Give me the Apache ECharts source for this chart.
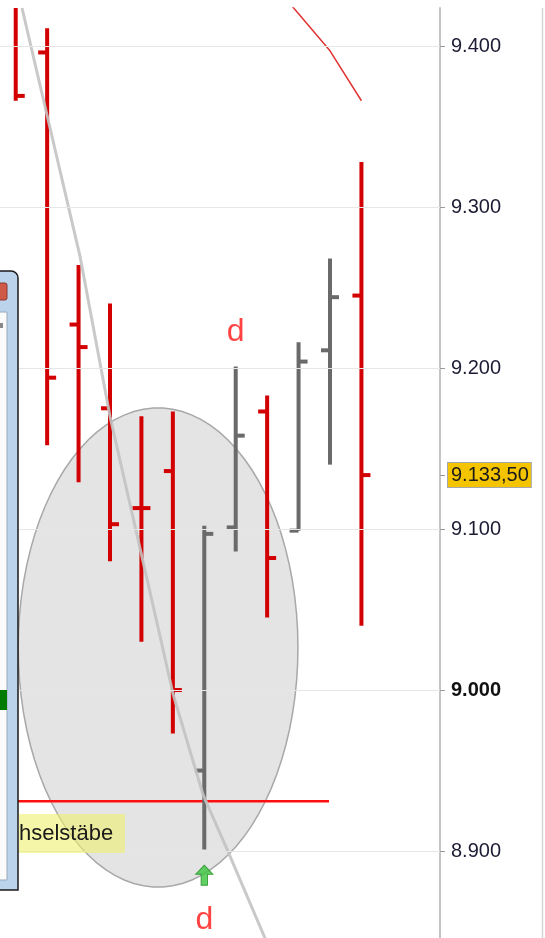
<!DOCTYPE html>
<html>
<head>
<meta charset="utf-8">
<script src="https://cdn.jsdelivr.net/npm/echarts@6.0.0/dist/echarts.min.js"></script>
<style>
html,body{margin:0;padding:0;background:#fff;}
#chart{width:545px;height:938px;}
</style>
</head>
<body>
<div id="chart"></div>
<script>
// bar slots (left to right), OHLC values
var slots = [0, 1, 2, 3, 4, 5, 6, 7, 8, 9, 10, 11];
var openVals  = [9435, 9396, 9227, 9175, 9113, 9136, 8950, 9101, 9173, 9099, 9211, 9245];
var highVals  = [9440, 9411, 9264, 9240, 9170, 9173, 9102, 9201, 9183, 9216, 9268, 9328];
var lowVals   = [9366, 9152, 9129, 9080, 9030, 8973, 8901, 9086, 9045, 9099, 9140, 9040];
var closeVals = [9369, 9194, 9213, 9103, 9113, 9000, 9097, 9158, 9082, 9204, 9244, 9133.5];

var tickValues = [8900, 9000, 9100, 9200, 9300, 9400];
var lastPrice = 9133.5;

// red average line at the top
var avgSlots = [8, 9, 10, 11];
var avgVals = [9443, 9420, 9397, 9366];

// grey trend line (slot, price)
var trendSlots = [0.2, 2.05, 3.0, 4.69, 5.0, 5.96, 6.75, 7.93, 8.3];
var trendVals = [9423.6, 9269, 9170, 9025, 8998, 8935, 8900, 8846, 8825];

// red support line
var supportSlots = [-0.5, 9.97];
var supportVal = 8931;

// ellipse: centre slot, centre price, radius in slots, radius in price
var ellipseCenter = [4.53, 9026.4];
var ellipseRadius = [4.45, 148.8];

// markers
var markSlots = [7, 6];
var markVals = [9222, 8857];
var arrowSlot = 6;
var arrowVal = 8885;

var RED = '#d20000';
var GREY = '#6a6a6a';
var FONT = "'Liberation Sans', Arial, sans-serif";

function fmt(v) {
  var s = String(Math.round(v));
  return s.slice(0, s.length - 3) + '.' + s.slice(s.length - 3);
}

var ohlcData = slots.map(function (s, i) {
  return [s, openVals[i], highVals[i], lowVals[i], closeVals[i]];
});

function renderBar(params, api) {
  var x = api.value(0);
  var o = api.coord([x, api.value(1)]);
  var h = api.coord([x, api.value(2)]);
  var l = api.coord([x, api.value(3)]);
  var c = api.coord([x, api.value(4)]);
  var color = api.value(4) <= api.value(1) ? RED : GREY;
  var st = { stroke: color, lineWidth: 4 };
  return {
    type: 'group',
    children: [
      { type: 'line', shape: { x1: h[0], y1: h[1], x2: l[0], y2: l[1] }, style: st },
      { type: 'line', shape: { x1: o[0] - 9, y1: o[1], x2: o[0], y2: o[1] }, style: st },
      { type: 'line', shape: { x1: c[0], y1: c[1], x2: c[0] + 9, y2: c[1] }, style: st }
    ]
  };
}

function renderEllipse(params, api) {
  var c = api.coord([api.value(0), api.value(1)]);
  var rx = api.size([api.value(2), 0])[0];
  var ry = api.size([0, api.value(3)])[1];
  var pts = [];
  for (var k = 0; k < 90; k++) {
    var a = k / 90 * Math.PI * 2;
    pts.push([c[0] + rx * Math.cos(a), c[1] + ry * Math.sin(a)]);
  }
  return {
    type: 'polygon',
    shape: { points: pts },
    style: { fill: 'rgba(130,130,130,0.22)', stroke: '#a8a8a8', lineWidth: 1.5 }
  };
}

var chartDom = document.getElementById('chart');
var myChart = echarts.init(chartDom);

var option = {
  animation: false,
  grid: { left: 0, right: 105, top: 8, bottom: 0, containLabel: false },
  xAxis: {
    type: 'value',
    min: -0.5,
    max: 13.5,
    show: false
  },
  yAxis: {
    type: 'value',
    position: 'right',
    min: 8846,
    max: 9423.6,
    axisLine: { show: true, onZero: false, lineStyle: { color: '#c4c4c4', width: 2 } },
    axisTick: { show: true, length: 5, customValues: tickValues.concat([lastPrice]), lineStyle: { color: '#9a9a9a' } },
    splitLine: { show: false },
    axisLabel: {
      customValues: tickValues,
      margin: 11,
      fontSize: 20,
      fontFamily: FONT,
      color: '#1c1c34',
      formatter: function (v) {
        if (v === 9000) return '{b|' + fmt(v) + '}';
        return fmt(v);
      },
      rich: {
        b: { fontSize: 20, fontWeight: 'bold', fontFamily: FONT, color: '#111111' }
      }
    }
  },
  graphic: [
    // right border of the panel
    { type: 'line', z: 50, shape: { x1: 542.5, y1: 8, x2: 542.5, y2: 938 }, style: { stroke: '#d6d6d6', lineWidth: 1.5 } },
    // window fragment on the left
    { type: 'rect', z: 60, shape: { x: -12, y: 271, width: 30, height: 619, r: [0, 7, 0, 0] }, style: { fill: '#bcd3ec', stroke: '#1a1a1a', lineWidth: 1.5 } },
    { type: 'rect', z: 61, shape: { x: -4, y: 283, width: 11, height: 17, r: 2 }, style: { fill: '#cf5a48', stroke: '#8a3a30', lineWidth: 1 } },
    { type: 'rect', z: 61, shape: { x: -4, y: 312, width: 11, height: 568 }, style: { fill: '#fbfbfb', stroke: '#9aa8b8', lineWidth: 1 } },
    { type: 'rect', z: 62, shape: { x: 0, y: 690, width: 7, height: 20 }, style: { fill: '#007a00' } },
    { type: 'rect', z: 62, shape: { x: 0, y: 323, width: 3, height: 5 }, style: { fill: '#888888' } },
    // yellow legend label
    { type: 'rect', z: 60, shape: { x: 19, y: 814, width: 106, height: 39 }, style: { fill: 'rgba(240,240,110,0.6)' } },
    { type: 'text', z: 61, x: 19, y: 834, style: { text: 'hselstäbe', font: '22px ' + FONT, fill: '#1a1a1a', verticalAlign: 'middle', align: 'left' } }
  ],
  series: [
    {
      name: 'grid',
      type: 'line',
      data: [],
      z: 0,
      silent: true,
      markLine: {
        silent: true,
        symbol: 'none',
        label: { show: false },
        lineStyle: { color: '#e6e6e6', type: 'solid', width: 1 },
        data: tickValues.map(function (v) { return { yAxis: v }; })
      }
    },
    {
      name: 'ellipse',
      type: 'custom',
      z: 1,
      silent: true,
      renderItem: renderEllipse,
      data: [[ellipseCenter[0], ellipseCenter[1], ellipseRadius[0], ellipseRadius[1]]]
    },
    {
      name: 'support',
      type: 'line',
      z: 2,
      symbol: 'none',
      lineStyle: { color: '#ff1010', width: 2.5 },
      data: supportSlots.map(function (s) { return [s, supportVal]; })
    },
    {
      name: 'bars',
      type: 'custom',
      z: 3,
      clip: true,
      renderItem: renderBar,
      data: ohlcData
    },
    {
      name: 'last',
      type: 'line',
      data: [],
      z: 6,
      silent: true,
      markLine: {
        silent: true,
        symbol: 'none',
        lineStyle: { color: 'rgba(0,0,0,0)', width: 1 },
        label: {
          show: true,
          position: 'end',
          distance: 8,
          formatter: '9.133,50',
          fontSize: 20,
          fontFamily: FONT,
          color: '#1a1a1a',
          backgroundColor: '#f5c400',
          borderColor: '#a8a8a8',
          borderWidth: 1,
          padding: [3, 2, 1, 3]
        },
        data: [{ yAxis: lastPrice }]
      }
    },
    {
      name: 'trend',
      type: 'line',
      z: 4,
      symbol: 'none',
      lineStyle: { color: 'rgba(195,195,195,0.9)', width: 3 },
      data: trendSlots.map(function (s, i) { return [s, trendVals[i]]; })
    },
    {
      name: 'avg',
      type: 'line',
      z: 4,
      symbol: 'none',
      lineStyle: { color: '#e03434', width: 1.5 },
      data: avgSlots.map(function (s, i) { return [s, avgVals[i]]; })
    },
    {
      name: 'marks',
      type: 'scatter',
      z: 5,
      symbolSize: 0,
      label: {
        show: true,
        position: 'inside',
        formatter: 'd',
        fontSize: 32,
        fontFamily: FONT,
        color: '#ff1414'
      },
      data: markSlots.map(function (s, i) { return [s, markVals[i]]; })
    },
    {
      name: 'arrow',
      type: 'scatter',
      z: 5,
      symbol: 'path://M8,0 L16,9 L11,9 L11,20 L5,20 L5,9 L0,9 Z',
      symbolSize: [17, 20],
      itemStyle: { color: '#3cc43c', borderColor: '#1c8c1c', borderWidth: 1 },
      data: [[arrowSlot, arrowVal]]
    }
  ]
};
option && myChart.setOption(option, true);
</script>
</body>
</html>
